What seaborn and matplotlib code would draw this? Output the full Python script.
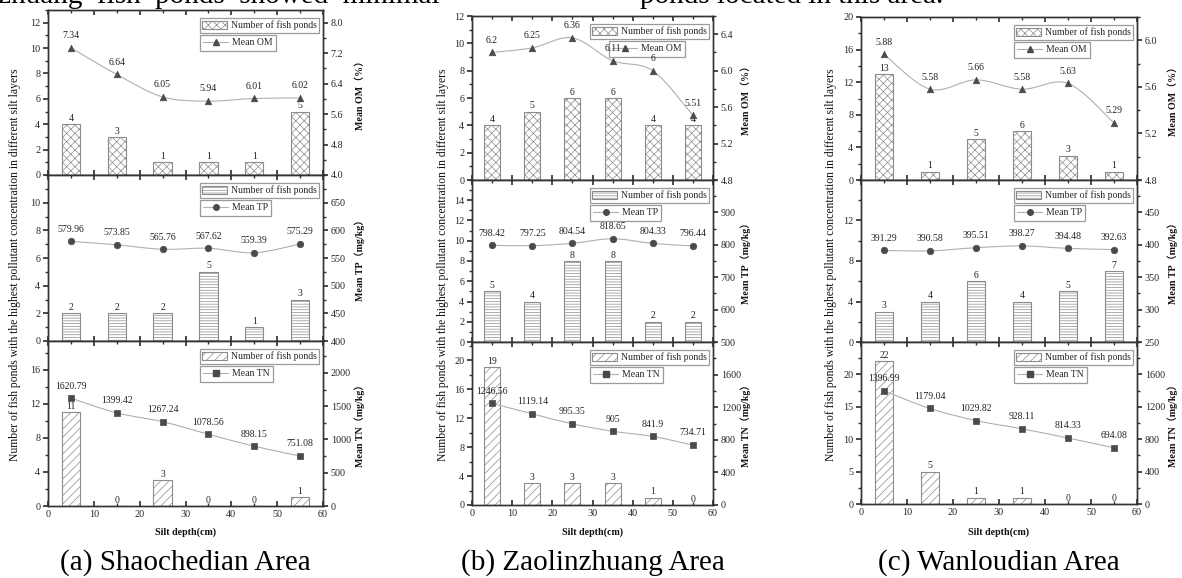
import numpy as np
import pandas as pd
import matplotlib
matplotlib.use("Agg")
import matplotlib.pyplot as plt
import seaborn as sns
from matplotlib.path import Path
from matplotlib.patches import PathPatch, Patch
from matplotlib.lines import Line2D
from matplotlib.ticker import FixedLocator, AutoMinorLocator, MultipleLocator, FormatStrFormatter

# ---------------- data ----------------
depth = [5, 15, 25, 35, 45, 55]

sha_om_count = [4, 3, 1, 1, 1, 5]
sha_om_mean = [7.34, 6.64, 6.05, 5.94, 6.01, 6.02]
sha_tp_count = [2, 2, 2, 5, 1, 3]
sha_tp_mean = [579.96, 573.85, 565.76, 567.62, 559.39, 575.29]
sha_tn_count = [11, 0, 3, 0, 0, 1]
sha_tn_mean = [1620.79, 1399.42, 1267.24, 1078.56, 898.15, 751.08]

zao_om_count = [4, 5, 6, 6, 4, 4]
zao_om_mean = [6.2, 6.25, 6.36, 6.11, 6, 5.51]
zao_tp_count = [5, 4, 8, 8, 2, 2]
zao_tp_mean = [798.42, 797.25, 804.54, 818.65, 804.33, 796.44]
zao_tn_count = [19, 3, 3, 3, 1, 0]
zao_tn_mean = [1246.56, 1119.14, 995.35, 905, 841.9, 734.71]

wan_om_count = [13, 1, 5, 6, 3, 1]
wan_om_mean = [5.88, 5.58, 5.66, 5.58, 5.63, 5.29]
wan_tp_count = [3, 4, 6, 4, 5, 7]
wan_tp_mean = [391.29, 390.58, 395.51, 398.27, 394.48, 392.63]
wan_tn_count = [22, 5, 1, 1, 0, 0]
wan_tn_mean = [1396.99, 1179.04, 1029.82, 928.11, 814.33, 694.08]

area_titles = ["(a) Shaochedian Area", "(b) Zaolinzhuang Area", "(c) Wanloudian Area"]
series_names = ["OM", "TP", "TN"]
right_labels = ["Mean OM\uff08%\uff09", "Mean TP\uff08mg/kg\uff09", "Mean TN\uff08mg/kg\uff09"]
left_label = "Number of fish ponds with the highest pollutant concentration in different silt layers"
x_label = "Silt depth(cm)"
bar_label = "Number of fish ponds"

# ---------------- style ----------------
sns.set_theme(style="ticks")
plt.rcParams["font.family"] = ["Liberation Serif", "Noto Sans CJK SC"]
plt.rcParams["hatch.linewidth"] = 0.5
plt.rcParams["hatch.color"] = "#8c8c8c"
plt.rcParams["axes.linewidth"] = 1.0
plt.rcParams["axes.edgecolor"] = "#333333"

W, H = 1182, 578
fig = plt.figure(figsize=(W / 100, H / 100), dpi=100)
fig.patch.set_facecolor("white")

GRAY = "#8c8c8c"
LINE = "#b0b0b0"
DARK = "#4a4a4a"
hatches = ["xxxx", "------", "////"]
markers = ["^", "o", "s"]

layout = [
    dict(x0=48, x1=323, rows=[10, 175, 341, 506], ylab_x=15, rlab_x=360),
    dict(x0=472, x1=713, rows=[16, 180, 342, 505], ylab_x=443, rlab_x=746),
    dict(x0=861, x1=1137, rows=[17, 180, 342, 504], ylab_x=831, rlab_x=1173),
]
left_lims = [[13, 12, 19.4], [12, 16, 22.5], [20, 16, 25]]
left_ticks = [[(0, 12, 2), (0, 10, 2), (0, 16, 4)],
              [(0, 12, 2), (0, 14, 2), (0, 20, 4)],
              [(0, 20, 4), (0, 12, 4), (0, 20, 5)]]
right_lims = [[(4.0, 8.333), (400, 700), (0, 2480)],
              [(4.8, 6.6), (500, 1000), (0, 2000)],
              [(4.8, 6.2), (250, 500), (0, 2000)]]
right_ticks = [[(4.0, 8.0, 0.8), (400, 650, 50), (0, 2000, 500)],
               [(4.8, 6.4, 0.4), (500, 900, 100), (0, 1600, 400)],
               [(4.8, 6.0, 0.4), (250, 450, 50), (0, 1600, 400)]]
right_fmt = ["%.1f", "%d", "%d"]
# horizontal shift (px) of the second legend box relative to the first
leg2_shift = [[0, 0, 0], [19, 0, 0], [0, 0, 0]]

counts_all = [[sha_om_count, sha_tp_count, sha_tn_count],
              [zao_om_count, zao_tp_count, zao_tn_count],
              [wan_om_count, wan_tp_count, wan_tn_count]]
means_all = [[sha_om_mean, sha_tp_mean, sha_tn_mean],
             [zao_om_mean, zao_tp_mean, zao_tn_mean],
             [wan_om_mean, wan_tp_mean, wan_tn_mean]]

TICK_FS = 7.3
ANN_FS = 7.0
LEG_FS = 7.0


def smooth_path(xs, ys):
    pts = np.column_stack([xs, ys]).astype(float)
    n = len(pts)
    verts = [pts[0]]
    codes = [Path.MOVETO]
    for i in range(n - 1):
        p0 = pts[i - 1] if i > 0 else pts[i]
        p1 = pts[i]
        p2 = pts[i + 1]
        p3 = pts[i + 2] if i + 2 < n else pts[i + 1]
        c1 = p1 + (p2 - p0) / 6.0
        c2 = p2 - (p3 - p1) / 6.0
        verts += [c1, c2, p2]
        codes += [Path.CURVE4] * 3
    return Path(verts, codes)


def ticks_from(spec):
    a, b, s = spec
    return list(np.round(np.arange(a, b + s / 2, s), 6))


pending = []
for ai in range(3):
    L = layout[ai]
    x0, x1 = L["x0"], L["x1"]
    for ri in range(3):
        top_px, bot_px = L["rows"][ri], L["rows"][ri + 1]
        rect = [x0 / W, 1 - bot_px / H, (x1 - x0) / W, (bot_px - top_px) / H]
        ax = fig.add_axes(rect)
        df = pd.DataFrame({"depth": depth, "count": counts_all[ai][ri], "mean": means_all[ai][ri]})

        sns.barplot(data=df, x="depth", y="count", native_scale=True, width=0.4,
                    color="white", edgecolor=GRAY, linewidth=0.8, errorbar=None, ax=ax)
        for p in ax.patches:
            p.set_facecolor("white")
            p.set_edgecolor(GRAY)
            p.set_hatch(hatches[ri])
        for x, c in zip(df["depth"], df["count"]):
            ax.annotate(f"{c}", (x, c), xytext=(0, 1.0), textcoords="offset points",
                        ha="center", va="bottom", fontsize=ANN_FS, color="#222222")

        ax.set_xlim(0, 60)
        ax.set_ylim(0, left_lims[ai][ri])
        ax.xaxis.set_major_locator(MultipleLocator(10))
        ax.xaxis.set_minor_locator(MultipleLocator(5))
        ax.yaxis.set_major_locator(FixedLocator(ticks_from(left_ticks[ai][ri])))
        ax.yaxis.set_minor_locator(AutoMinorLocator(2))
        ax.set_xlabel("")
        ax.set_ylabel("")
        ax.tick_params(axis="x", which="both", direction="in", top=True, bottom=True,
                       labelsize=TICK_FS, pad=3, color="#333333")
        ax.tick_params(axis="x", which="major", length=3.5)
        ax.tick_params(axis="x", which="minor", length=2)
        ax.tick_params(axis="y", which="both", direction="out", labelsize=TICK_FS, pad=2,
                       color="#333333")
        ax.tick_params(axis="y", which="major", length=3.5)
        ax.tick_params(axis="y", which="minor", length=2)
        if ri < 2:
            ax.tick_params(axis="x", labelbottom=False)
        ax.yaxis.set_major_formatter(FormatStrFormatter("%d"))

        ax2 = ax.twinx()
        lo, hi = right_lims[ai][ri]
        ax2.set_ylim(lo, hi)
        ax2.add_patch(PathPatch(smooth_path(df["depth"], df["mean"]), fill=False,
                                edgecolor=LINE, linewidth=0.8, zorder=3))
        sns.scatterplot(data=df, x="depth", y="mean", marker=markers[ri], s=22,
                        color=DARK, edgecolor=DARK, linewidth=0.5, ax=ax2, zorder=4,
                        legend=False)
        for x, v in zip(df["depth"], df["mean"]):
            ax2.annotate(f"{v:g}", (x, v), xytext=(0, 5.5), textcoords="offset points",
                         ha="center", va="bottom", fontsize=ANN_FS, color="#222222",
                         zorder=6)
        ax2.set_xlim(0, 60)
        ax2.set_xlabel("")
        ax2.set_ylabel("")
        ax2.yaxis.set_major_locator(FixedLocator(ticks_from(right_ticks[ai][ri])))
        ax2.yaxis.set_minor_locator(AutoMinorLocator(2))
        ax2.yaxis.set_major_formatter(FormatStrFormatter(right_fmt[ri]))
        ax2.tick_params(axis="y", which="both", direction="out", labelsize=TICK_FS, pad=2,
                        color="#333333")
        ax2.tick_params(axis="y", which="major", length=3.5)
        ax2.tick_params(axis="y", which="minor", length=2)

        wpx, hpx = x1 - x0, bot_px - top_px
        h1 = [Patch(facecolor="white", edgecolor=GRAY, hatch=hatches[ri], linewidth=0.8,
                    label=bar_label)]
        leg1 = ax2.legend(handles=h1, loc="upper right",
                          bbox_to_anchor=(1 - 4 / wpx, 1 - 8 / hpx), borderaxespad=0,
                          fontsize=LEG_FS, frameon=True, fancybox=False, framealpha=1,
                          edgecolor="#9a9a9a", borderpad=0.25, handlelength=2.6,
                          handleheight=0.9, handletextpad=0.35)
        leg1.get_frame().set_linewidth(0.9)
        ax2.add_artist(leg1)
        h2 = [Line2D([], [], color=LINE, lw=0.8, marker=markers[ri], markersize=4,
                     markerfacecolor=DARK, markeredgecolor=DARK, label=f"Mean {series_names[ri]}")]
        pending.append((ax2, leg1, h2, hpx, wpx, leg2_shift[ai][ri]))

        fig.text((L["rlab_x"]) / W, 1 - (top_px + bot_px) / 2 / H, right_labels[ri],
                 rotation=90, ha="center", va="center", fontsize=7.2, fontweight="bold",
                 color="#111111")

    # left y label and x label, caption
    fig.text(L["ylab_x"] / W, 1 - 265 / H, left_label, rotation=90, ha="center", va="center",
             fontsize=8.4, color="#111111")
    fig.text((x0 + x1) / 2 / W, 1 - 532 / H, x_label, ha="center", va="center",
             fontsize=7.2, fontweight="bold", color="#111111")
    fig.text((x0 + x1) / 2 / W, 1 - 563 / H, area_titles[ai], ha="center", va="center",
             fontsize=21, color="#000000")

fig.canvas.draw()
for ax2, leg1, h2, hpx, wpx, shift in pending:
    bb = leg1.get_window_extent()
    left_frac = ax2.transAxes.inverted().transform((bb.x0, bb.y0))[0] + shift / wpx
    leg2 = ax2.legend(handles=h2, loc="upper left", bbox_to_anchor=(left_frac, 1 - 25 / hpx),
                      borderaxespad=0, fontsize=LEG_FS, frameon=True, fancybox=False,
                      framealpha=1, edgecolor="#9a9a9a", borderpad=0.35, handlelength=2.6,
                      handletextpad=0.35)
    leg2.get_frame().set_linewidth(0.9)
    leg2.set_zorder(5)

# cut-off body text at the very top of the page (as in the source page)
fig.text(440 / W, 1 - 3 / H, "Zaolinzhuang  fish  ponds  showed  minimal", ha="right",
         va="baseline", fontsize=21, color="#000000")
fig.text(640 / W, 1 - 3 / H, "ponds located in this area.", ha="left",
         va="baseline", fontsize=21, color="#000000")

fig.savefig("out.png", dpi=100, facecolor="white")
